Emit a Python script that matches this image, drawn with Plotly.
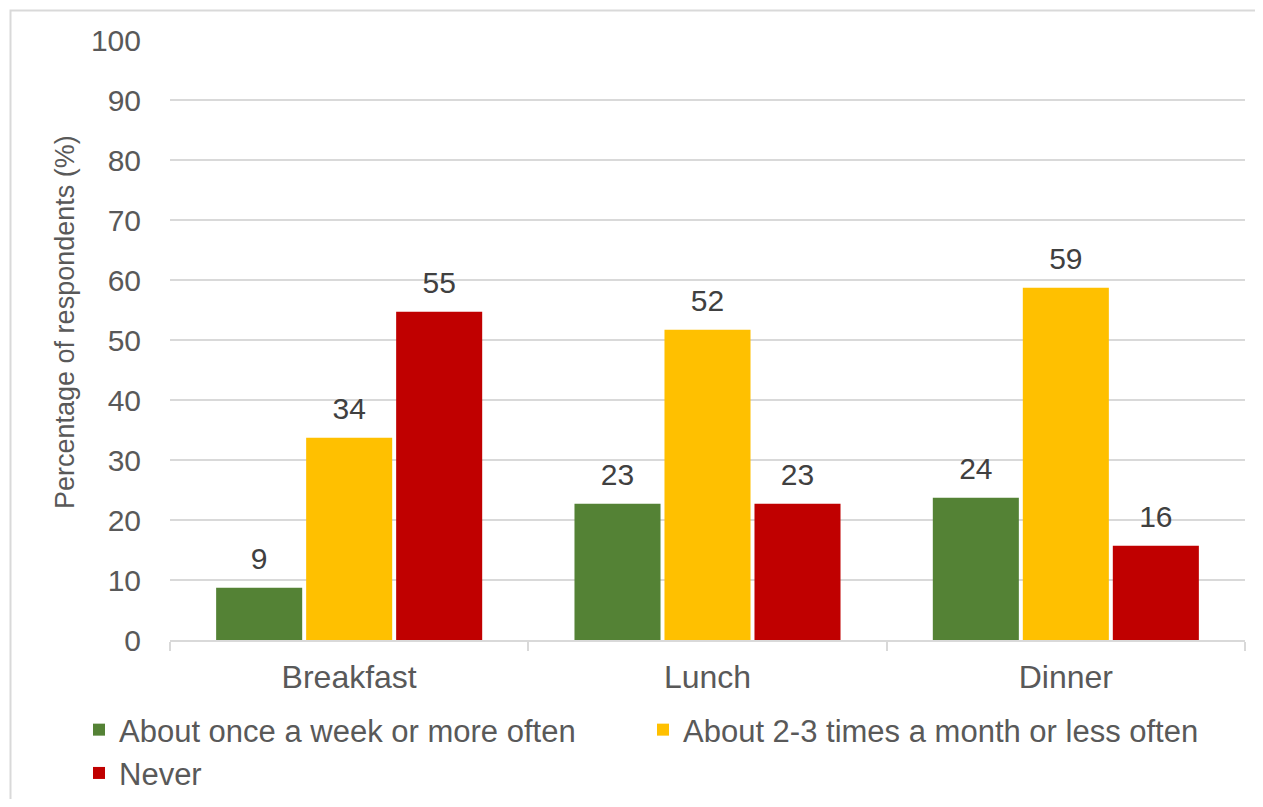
import plotly.graph_objects as go

# data
meals = ["Breakfast", "Lunch", "Dinner"]
weekly = [8.7, 22.7, 23.7]
monthly = [33.7, 51.7, 58.7]
never = [54.7, 22.7, 15.7]

series_names = [
    "About once a week or more often",
    "About 2-3 times a month or less often",
    "Never",
]
series_colors = ["#548235", "#FFC000", "#C00000"]

FONT = "Liberation Sans, Arial, sans-serif"
GRID = "#d9d9d9"
TXT = "#595959"
BARGAP = 0.2465

# the page body keeps its default 8px margin, so the figure is a bit smaller
PAGE_PAD = 8
W, H = 1263 - 2 * PAGE_PAD, 807 - 2 * PAGE_PAD
# plot area in page pixels: x 170..1245, y 40..640
L = 170 - PAGE_PAD
R = W - (1245 - PAGE_PAD)
T = 40 - PAGE_PAD
B = H - (640 - PAGE_PAD)


def px_to_paper_x(px):
    return (px - PAGE_PAD - L) / (W - L - R)


def px_to_paper_y(py):
    return (H - B - (py - PAGE_PAD)) / (H - T - B)


fig = go.Figure()
for name, vals, col in zip(series_names, [weekly, monthly, never], series_colors):
    fig.add_trace(go.Bar(
        x=meals, y=vals, name=name,
        marker=dict(color=col, line=dict(width=0)),
        offsetgroup=name,
        hoverinfo="skip",
    ))

# value labels, lifted a bit above the bars like the original
for name, vals in zip(series_names, [weekly, monthly, never]):
    fig.add_trace(go.Scatter(
        x=meals, y=vals, mode="markers+text",
        offsetgroup=name,
        text=[f"{v:.0f}" for v in vals],
        textposition="top center",
        textfont=dict(family=FONT, size=30, color="#404040"),
        marker=dict(size=16, opacity=0),
        showlegend=False, hoverinfo="skip",
    ))

fig.update_layout(
    width=W, height=H,
    margin=dict(l=L, r=R, t=T, b=B, autoexpand=False),
    plot_bgcolor="white", paper_bgcolor="white",
    font=dict(family=FONT, color=TXT),
    barmode="group", bargap=BARGAP, bargroupgap=0.044,
    scattermode="group", scattergap=BARGAP,
    xaxis=dict(
        type="category", showgrid=False,
        showline=True, linecolor=GRID, linewidth=1.5,
        ticks="outside", tickson="boundaries", ticklen=9,
        tickcolor=GRID, tickwidth=1.5,
        tickfont=dict(size=32, color=TXT),
        ticklabelstandoff=8,
    ),
    yaxis=dict(
        range=[0, 100], dtick=10, showgrid=True,
        gridcolor=GRID, gridwidth=1.5, zeroline=False,
        showline=False, ticks="",
        tickfont=dict(size=30, color=TXT),
        ticklabelstandoff=28,
    ),
    showlegend=True,
    legend=dict(
        orientation="h", x=px_to_paper_x(79), xanchor="left",
        y=px_to_paper_y(703), yanchor="top",
        font=dict(size=31, color=TXT),
        entrywidth=519, entrywidthmode="pixels",
        itemclick=False, itemdoubleclick=False,
    ),
    annotations=[dict(
        text="Percentage of respondents (%)", textangle=-90,
        xref="paper", yref="paper",
        x=px_to_paper_x(65), y=px_to_paper_y(322),
        xanchor="center", yanchor="middle", showarrow=False,
        font=dict(size=27, color=TXT),
    )],
    shapes=[dict(
        type="rect", xref="paper", yref="paper",
        x0=px_to_paper_x(10.5), x1=px_to_paper_x(1300),
        y0=px_to_paper_y(840), y1=px_to_paper_y(10.5),
        line=dict(color=GRID, width=2), fillcolor="rgba(0,0,0,0)",
        layer="below",
    )],
)

fig.write_html("out.html")
